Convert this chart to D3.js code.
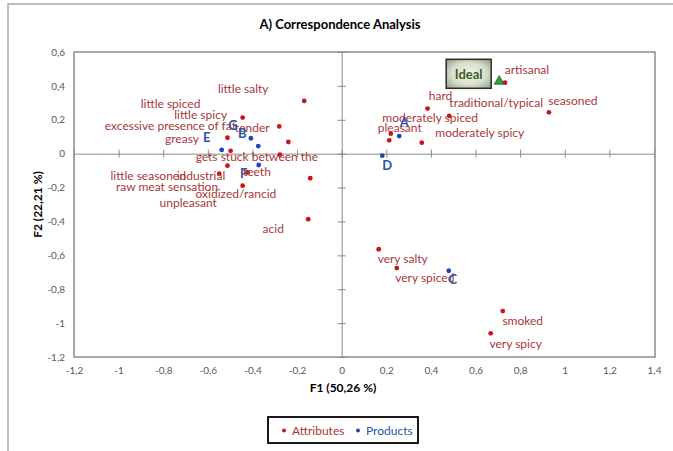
<!DOCTYPE html>
<html><head><meta charset="utf-8">
<script src="https://cdn.jsdelivr.net/npm/d3@7"></script>
<style>
html,body{margin:0;padding:0;background:#fff;}
svg{display:block;font-family:Lato,"Open Sans",sans-serif;}
</style></head>
<body><svg id="chart" width="673" height="451"></svg>
<script>
// ---- data ----
const attrNames = ["little salty","little spicy","tender","excessive presence of fat","greasy","little spiced",
  "gets stuck between the teeth","industrial","little seasoned","raw meat sensation","oxidized/rancid","unpleasant","acid",
  "pleasant","moderately spiced","moderately spicy","hard","traditional/typical","artisanal","seasoned",
  "very salty","very spiced","smoked","very spicy"];
const attrF1 = [-0.168,-0.444,-0.280,-0.239,-0.512,-0.498,-0.277,-0.512,-0.549,-0.422,-0.444,-0.141,-0.150,
  0.220,0.213,0.359,0.385,0.482,0.732,0.929,0.166,0.247,0.722,0.668];
const attrF2 = [0.311,0.213,0.161,0.069,0.094,0.017,-0.006,-0.071,-0.118,-0.111,-0.189,-0.145,-0.387,
  0.118,0.079,0.065,0.266,0.223,0.419,0.244,-0.564,-0.675,-0.929,-1.060];
const prodNames = ["G","B","E","F","A","D","C"];
const prodF1 = [-0.407,-0.374,-0.538,-0.372,0.258,0.182,0.480];
const prodF2 = [0.091,0.045,0.022,-0.067,0.104,-0.012,-0.691];
const idealName = ["Ideal"];
const idealF1 = [0.706];
const idealF2 = [0.427];
const xTicks = [-1.2,-1,-0.8,-0.6,-0.4,-0.2,0,0.2,0.4,0.6,0.8,1,1.2,1.4];
const yTicks = [0.6,0.4,0.2,0,-0.2,-0.4,-0.6,-0.8,-1,-1.2];
const legendNames = ["Attributes","Products"];

// ---- label placement (pixel offsets from the point) ----
const attrLabelOff = [[-61,-12],[-42,-3],[-27,1.5],[-118,-16],[-45.5,1],[-60,-47],[-23,1],[-26.5,10],[-71,2],
  [-80.5,14.5],[-6.7,8.3],[-122,24],[-35,9],[9,-6],[41,-23],[58,-10],[13,-13],[47,-13],[22,-13],[24,-12],
  [24,9],[28,9],[20,9],[25,10]];
const prodLabelOff = [[-18,-13],[-16,-13],[-15,-13],[-15,8],[5,-14],[5,9],[4,8]];

// ---- layout ----
const svg = d3.select("#chart");
const M = {left:74, right:654, top:52, bottom:357};
const x = d3.scaleLinear().domain([-1.2,1.4]).range([M.left,M.right]);
const y = d3.scaleLinear().domain([-1.2,0.6]).range([M.bottom,M.top]);
const loc = d3.formatLocale({decimal:",",thousands:".",grouping:[3],currency:["",""],minus:"-"});
const fmt = loc.format("~g");
const RED = "#c8161d", REDTXT = "#a5383a", BLUE = "#1f47b3", BLUETXT = "#2d54a8", AXIS = "#8c8c8c";

// outer frame
svg.append("rect").attr("x",8).attr("y",4).attr("width",720).attr("height",500)
  .attr("fill","none").attr("stroke","#a6a6a6").attr("stroke-width",1.5);

// title
svg.append("text").attr("x",340).attr("y",24).attr("text-anchor","middle").attr("dominant-baseline","central")
  .attr("font-weight","bold").attr("font-size",13).attr("fill","#000").text("A) Correspondence Analysis");

// plot border
svg.append("rect").attr("x",M.left).attr("y",M.top).attr("width",M.right-M.left+1).attr("height",M.bottom-M.top)
  .attr("fill","none").attr("stroke",AXIS).attr("stroke-width",1.5);

// axes through origin with cross ticks
const gx = svg.append("g").attr("transform",`translate(0,${y(0)})`)
  .call(d3.axisBottom(x).tickValues(xTicks).tickSize(0).tickFormat(""));
gx.select(".domain").attr("stroke",AXIS);
gx.selectAll(".tick").append("line").attr("y1",-4).attr("y2",4).attr("stroke",AXIS);
const gy = svg.append("g").attr("transform",`translate(${x(0)},0)`)
  .call(d3.axisLeft(y).tickValues(yTicks).tickSize(0).tickFormat(""));
gy.select(".domain").attr("stroke",AXIS);
gy.selectAll(".tick").append("line").attr("x1",-4).attr("x2",4).attr("stroke",AXIS);

// tick labels at low position
const gxl = svg.append("g").attr("transform",`translate(0,${M.bottom})`)
  .call(d3.axisBottom(x).tickValues(xTicks).tickSize(0).tickPadding(10).tickFormat(fmt));
gxl.select(".domain").remove();
gxl.selectAll("text").attr("font-size",10).attr("fill","#595959").attr("font-family","Lato,sans-serif");
const gyl = svg.append("g").attr("transform",`translate(${M.left},0)`)
  .call(d3.axisLeft(y).tickValues(yTicks).tickSize(0).tickPadding(9).tickFormat(fmt));
gyl.select(".domain").remove();
gyl.selectAll("text").attr("font-size",10).attr("fill","#595959").attr("font-family","Lato,sans-serif");

// axis titles
svg.append("text").attr("x",343).attr("y",387).attr("text-anchor","middle").attr("dominant-baseline","central")
  .attr("font-weight","bold").attr("font-size",12).text("F1 (50,26 %)");
svg.append("text").attr("transform",`translate(37,${(M.top+M.bottom)/2}) rotate(-90)`).attr("text-anchor","middle")
  .attr("dominant-baseline","central").attr("font-weight","bold").attr("font-size",12).text("F2 (22,21 %)");

// points
const attrs = attrNames.map((n,i)=>({n,f1:attrF1[i],f2:attrF2[i],o:attrLabelOff[i]}));
const prods = prodNames.map((n,i)=>({n,f1:prodF1[i],f2:prodF2[i],o:prodLabelOff[i]}));
svg.append("g").selectAll("circle").data(attrs).join("circle")
  .attr("cx",d=>x(d.f1)).attr("cy",d=>y(d.f2)).attr("r",2.4).attr("fill",RED);
svg.append("g").selectAll("circle").data(prods).join("circle")
  .attr("cx",d=>x(d.f1)).attr("cy",d=>y(d.f2)).attr("r",2.4).attr("fill",BLUE);

// attribute labels
const al = svg.append("g").selectAll("text").data(attrs).join("text")
  .attr("x",d=>x(d.f1)+d.o[0]).attr("y",d=>y(d.f2)+d.o[1]).attr("text-anchor","middle")
  .attr("dominant-baseline","central").attr("font-size",12).attr("fill",REDTXT);
al.each(function(d){
  const t = d3.select(this);
  if(d.n === "gets stuck between the teeth"){
    t.append("tspan").attr("x",x(d.f1)+d.o[0]).text("gets stuck between the");
    t.append("tspan").attr("x",x(d.f1)+d.o[0]).attr("dy",15).text("teeth");
  } else t.text(d.n);
});

// product labels
svg.append("g").selectAll("text").data(prods).join("text")
  .attr("x",d=>x(d.f1)+d.o[0]).attr("y",d=>y(d.f2)+d.o[1]).attr("text-anchor","middle")
  .attr("dominant-baseline","central").attr("font-size",13).attr("font-weight","bold").attr("fill",BLUETXT)
  .text(d=>d.n);

// ideal
const defs = svg.append("defs");
const rg = defs.append("radialGradient").attr("id","idealGrad").attr("cx","50%").attr("cy","50%").attr("r","70%");
rg.append("stop").attr("offset","0%").attr("stop-color","#eef3e6");
rg.append("stop").attr("offset","55%").attr("stop-color","#d7dfcc");
rg.append("stop").attr("offset","100%").attr("stop-color","#8e9c80");
const ideal = idealName.map((n,i)=>({n,f1:idealF1[i],f2:idealF2[i]}));
const ig = svg.append("g");
ig.selectAll("rect").data(ideal).join("rect")
  .attr("x",d=>x(d.f1)-53).attr("y",d=>y(d.f2)-22).attr("width",45).attr("height",29)
  .attr("fill","url(#idealGrad)").attr("stroke","#2b2b2b").attr("stroke-width",1.5);
ig.selectAll("text").data(ideal).join("text")
  .attr("x",d=>x(d.f1)-30.5).attr("y",d=>y(d.f2)-7.5).attr("text-anchor","middle").attr("dominant-baseline","central")
  .attr("font-size",13).attr("font-weight","bold").attr("fill","#3f5a2c").text(d=>d.n);
ig.selectAll("path").data(ideal).join("path")
  .attr("transform",d=>`translate(${x(d.f1)},${y(d.f2)})`)
  .attr("d",d3.symbol(d3.symbolTriangle,42)()).attr("fill","#2ea043").attr("stroke","#1b5e20").attr("stroke-width",0.8);

// legend
const lg = svg.append("g");
lg.append("rect").attr("x",268).attr("y",417).attr("width",150).attr("height",26)
  .attr("fill","#fff").attr("stroke","#000").attr("stroke-width",1.8);
const legItems = legendNames.map((n,i)=>({n,c:i?BLUE:RED,t:i?BLUETXT:REDTXT,x:i?358:284}));
lg.selectAll("circle").data(legItems).join("circle").attr("cx",d=>d.x).attr("cy",430.5).attr("r",2).attr("fill",d=>d.c);
lg.selectAll("text").data(legItems).join("text").attr("x",d=>d.x+8).attr("y",430.5).attr("dominant-baseline","central")
  .attr("font-size",12).attr("fill",d=>d.t).text(d=>d.n);
</script></body></html>
